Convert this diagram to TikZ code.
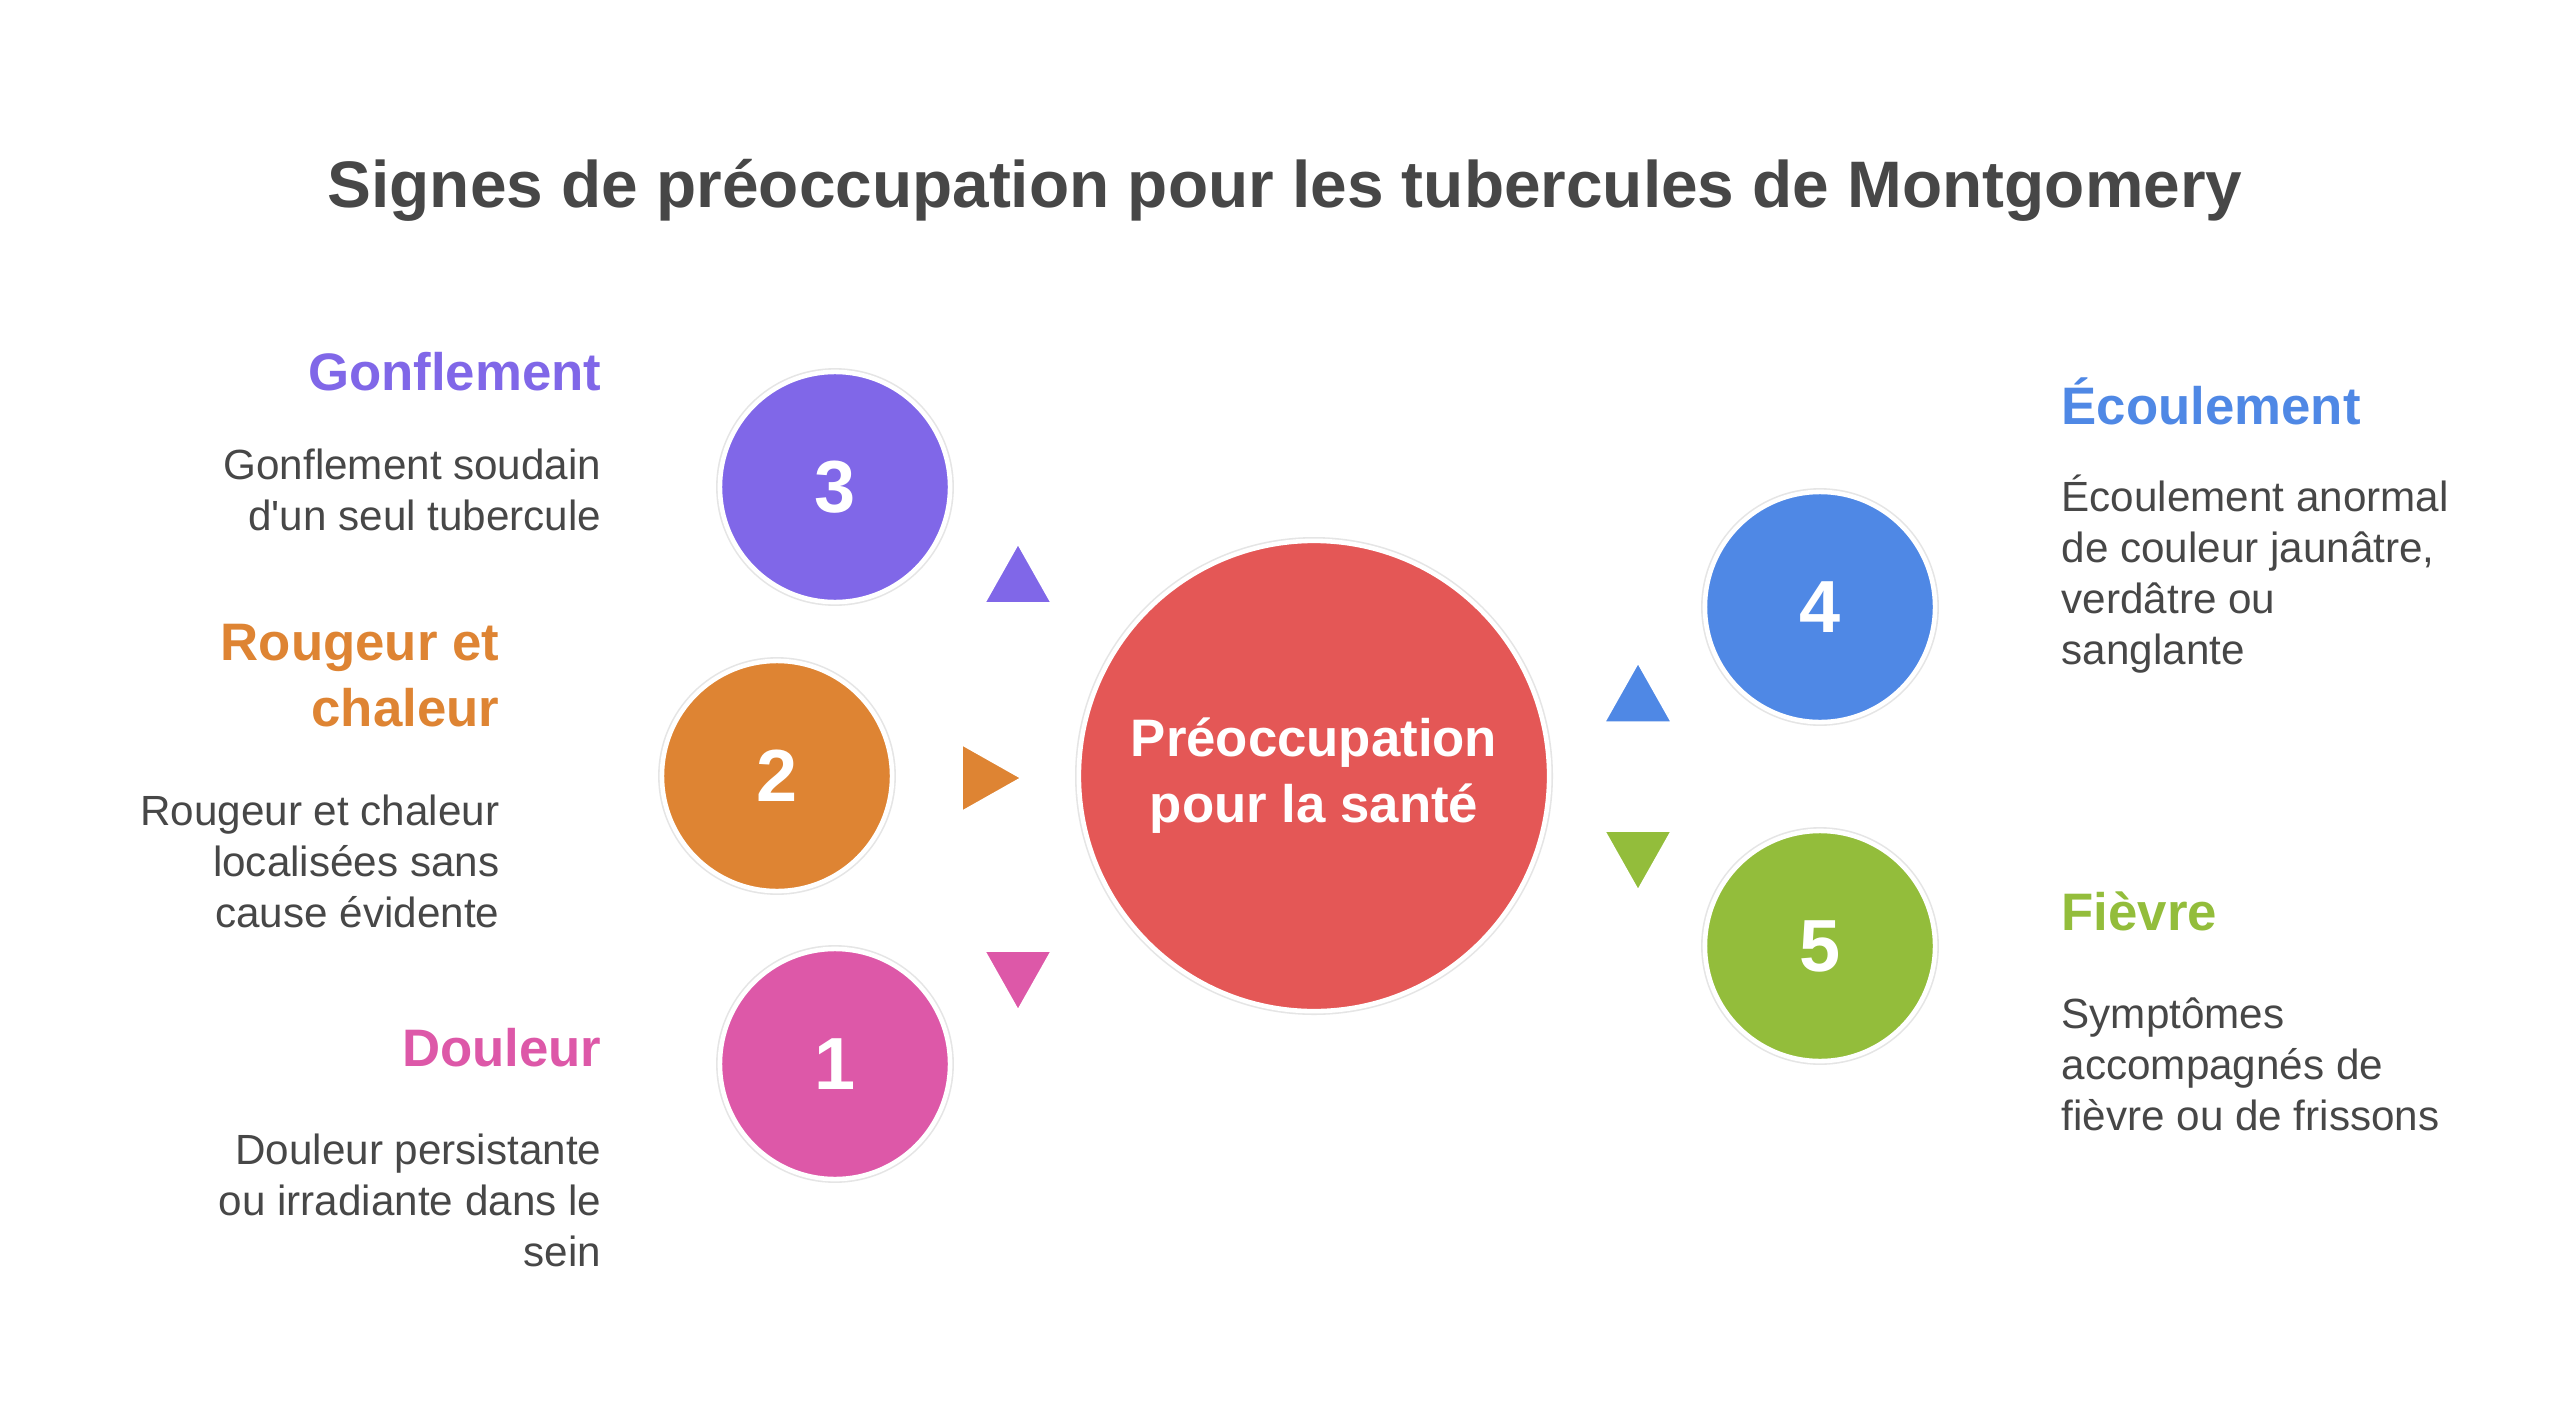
\documentclass[tikz,border=0pt]{standalone}
\usepackage{fontspec}
\setmainfont{Liberation Sans}
\definecolor{cviolet}{HTML}{8067E8}
\definecolor{corange}{HTML}{DE8433}
\definecolor{cpink}{HTML}{DD58A8}
\definecolor{cred}{HTML}{E45756}
\definecolor{cblue}{HTML}{4F88E5}
\definecolor{cgreen}{HTML}{93BD3B}
\definecolor{cgray}{HTML}{474747}
\tikzset{
marker/.pic={
  \path[pic actions] (0,-31) -- (35,31) -- (-35,31) -- cycle;
  },
bubble/.style={circle, fill=#1, draw=white, line width=1.3pt,
  preaction={draw=black!10, line width=2.2pt},
  minimum size=2.3cm, inner sep=0pt, text=white,
  font=\fontsize{21}{21}\selectfont\bfseries},
head/.style={inner sep=0pt, text=#1, font=\fontsize{15}{18.8}\selectfont\bfseries},
desc/.style={inner sep=0pt, text=cgray, font=\fontsize{12}{14.5}\selectfont},
tip/.style={fill=#1, draw=white, line width=1pt, line join=round}
}
\begin{document}
\begin{tikzpicture}[x=0.01cm, y=-0.01cm]
\useasboundingbox (0,0) rectangle (2560,1415);
\fill[white] (0,0) rectangle (2560,1415);
\node[text=cgray, font=\fontsize{18.7}{22}\selectfont\bfseries] (title) at (1285,190)
  {Signes de préoccupation pour les tubercules de Montgomery};
\node[bubble=cred, minimum size=4.7cm, align=center,
  font=\fontsize{15}{18.8}\selectfont\bfseries] (sante) at (1314,776)
  {Préoccupation\\pour la santé};
\node[bubble=cviolet] (n3) at (835,487) {3};
\node[bubble=corange] (n2) at (777,776) {2};
\node[bubble=cpink] (n1) at (835,1064) {1};
\node[bubble=cblue] (n4) at (1820,607) {4};
\node[bubble=cgreen] (n5) at (1820,946) {5};
\pic[tip=cviolet] at (1018,573) {marker};
\pic[tip=corange, rotate=-90] at (992,778) {marker};
\pic[tip=cpink, rotate=180] at (1018,981) {marker};
\pic[tip=cblue] at (1638,692) {marker};
\pic[tip=cgreen, rotate=180] at (1638,861) {marker};
\node[head=cviolet, anchor=east] (h3) at (602,372) {Gonflement};
\node[desc, anchor=east, align=right] (d3) at (602,490)
  {Gonflement soudain\\d\textquotesingle un seul tubercule};
\node[head=corange, anchor=east, align=right] (h2) at (500,676) {Rougeur et\\chaleur};
\node[desc, anchor=east, align=right] (d2) at (500,861)
  {Rougeur et chaleur\\localisées sans\\cause évidente};
\node[head=cpink, anchor=east] (h1) at (602,1048) {Douleur};
\node[desc, anchor=east, align=right] (d1) at (602,1200)
  {Douleur persistante\\ou irradiante dans le\\sein};
\node[head=cblue, anchor=west] (h4) at (2061,401) {Écoulement};
\node[desc, anchor=west, align=left] (d4) at (2061,574)
  {Écoulement anormal\\de couleur jaunâtre,\\verdâtre ou\\sanglante};
\node[head=cgreen, anchor=west] (h5) at (2061,911) {Fièvre};
\node[desc, anchor=west, align=left] (d5) at (2061,1064)
  {Symptômes\\accompagnés de\\fièvre ou de frissons};
\end{tikzpicture}
\end{document}
